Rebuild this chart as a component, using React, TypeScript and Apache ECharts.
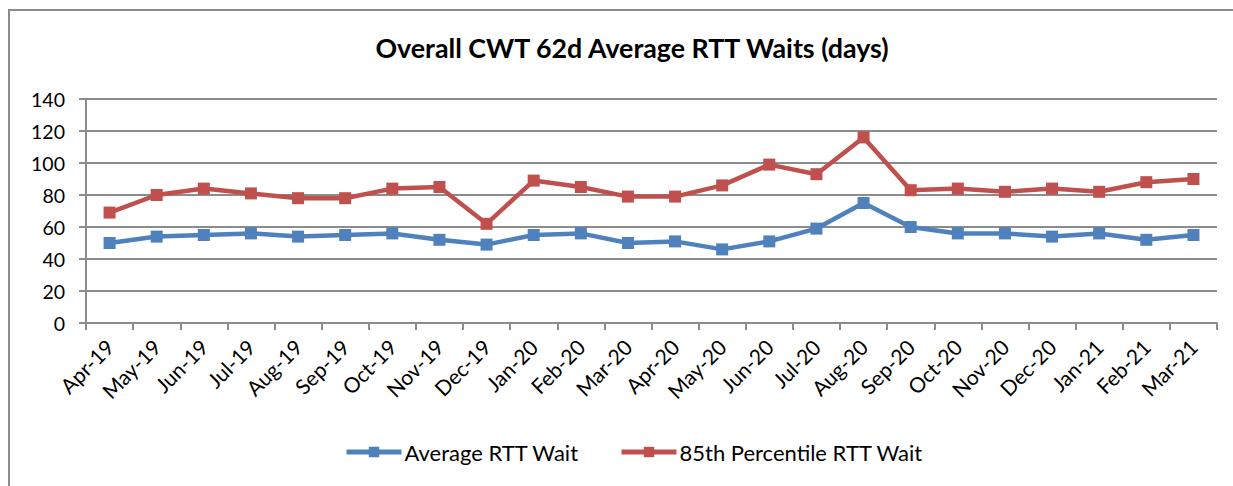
import React, { useEffect, useRef } from "react";
import * as echarts from "echarts";

const months = [
  "Apr-19", "May-19", "Jun-19", "Jul-19", "Aug-19", "Sep-19", "Oct-19", "Nov-19",
  "Dec-19", "Jan-20", "Feb-20", "Mar-20", "Apr-20", "May-20", "Jun-20", "Jul-20",
  "Aug-20", "Sep-20", "Oct-20", "Nov-20", "Dec-20", "Jan-21", "Feb-21", "Mar-21",
];
const averageWait = [50, 54, 55, 56, 54, 55, 56, 52, 49, 55, 56, 50, 51, 46, 51, 59, 75, 60, 56, 56, 54, 56, 52, 55];
const p85Wait = [69, 80, 84, 81, 78, 78, 84, 85, 62, 89, 85, 79, 79, 86, 99, 93, 116, 83, 84, 82, 84, 82, 88, 90];
const yTicks = { min: 0, max: 140, interval: 20 };

const FONT = "Lato, 'Liberation Sans', sans-serif";

export default function App() {
  const ref = useRef<HTMLDivElement>(null);
  useEffect(() => {
    if (!ref.current) return;
    const chart = echarts.init(ref.current, undefined, { renderer: "svg" });
    chart.setOption({
      animation: false,
      backgroundColor: "#ffffff",
      textStyle: { fontFamily: FONT, color: "#000" },
      title: {
        text: "Overall CWT 62d Average RTT Waits (days)",
        left: 627,
        top: 29,
        textAlign: "center",
        textStyle: { fontFamily: FONT, fontSize: 26.8, fontWeight: "bold", color: "#000" },
      },
      graphic: [
        {
          type: "rect",
          z: -1,
          shape: { x: 9, y: 10, width: 1400, height: 700 },
          style: { fill: "none", stroke: "#8c8c8c", lineWidth: 2 },
        },
      ],
      grid: { left: 86, right: 16, top: 99, bottom: 163, containLabel: false },
      xAxis: {
        type: "category",
        data: months,
        boundaryGap: true,
        axisLine: { lineStyle: { color: "#8c8c8c", width: 2 } },
        axisTick: { show: true, length: 7, lineStyle: { color: "#8c8c8c", width: 2 } },
        axisLabel: {
          rotate: 45,
          interval: 0,
          margin: 20,
          fontSize: 21,
          fontFamily: FONT,
          color: "#000",
        },
        splitLine: { show: false },
      },
      yAxis: {
        type: "value",
        min: yTicks.min,
        max: yTicks.max,
        interval: yTicks.interval,
        axisLine: { show: true, lineStyle: { color: "#8c8c8c", width: 2 } },
        axisTick: { show: true, length: 7, lineStyle: { color: "#8c8c8c", width: 2 } },
        axisLabel: { margin: 21, fontSize: 19.5, fontFamily: FONT, color: "#000" },
        splitLine: { show: true, lineStyle: { color: "#8c8c8c", width: 2 } },
      },
      legend: {
        left: 344,
        top: 441,
        padding: 0,
        itemWidth: 55,
        itemHeight: 13,
        itemGap: 40,
        lineStyle: { width: 5 },
        textStyle: { fontSize: 22, fontFamily: FONT, color: "#000", padding: [0, 0, 0, -2] },
        data: ["Average RTT Wait", "85th Percentile RTT Wait"],
      },
      series: [
        {
          name: "Average RTT Wait",
          type: "line",
          data: averageWait,
          symbol: "rect",
          symbolSize: 12,
          itemStyle: { color: "#4F81BD" },
          lineStyle: { color: "#4F81BD", width: 4.5 },
        },
        {
          name: "85th Percentile RTT Wait",
          type: "line",
          data: p85Wait,
          symbol: "rect",
          symbolSize: 12,
          itemStyle: { color: "#C0504D" },
          lineStyle: { color: "#C0504D", width: 4.5 },
        },
      ],
    });
    return () => chart.dispose();
  }, []);
  return (
    <div
      ref={ref}
      style={{ position: "fixed", left: 0, top: 0, width: 1233, height: 486, background: "#fff" }}
    />
  );
}
